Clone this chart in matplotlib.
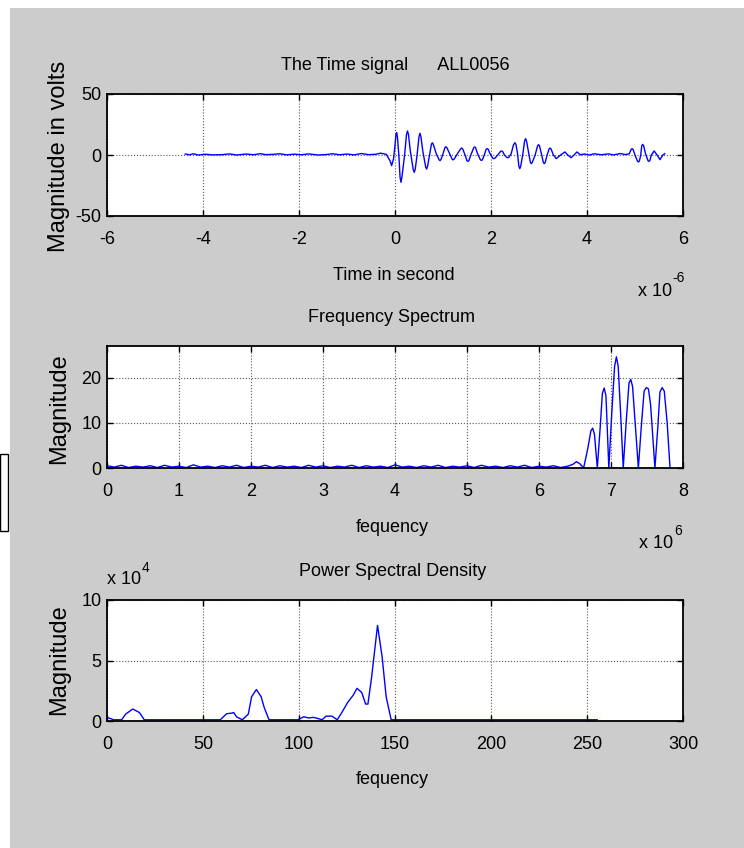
import matplotlib
matplotlib.use('Agg')
import matplotlib.pyplot as plt
from matplotlib.patches import Rectangle

W, H = 744, 848

# time signal, (time in micro seconds, volts)
quiet_start = [(-4.37, 0.8), (-4.28, 0.2), (-4.2, 1.0), (-4.1, 0.0), (-3.95, 0.6), (-3.8, 0.1),
               (-3.6, 0.3), (-3.45, 0.9), (-3.3, 0.0), (-3.1, 0.8), (-2.95, 0.2), (-2.8, 1.1),
               (-2.7, 0.3), (-2.55, 0.5), (-2.4, 1.0), (-2.25, 0.1), (-2.1, 0.7), (-1.95, 0.2),
               (-1.8, 0.9), (-1.6, 0.0), (-1.45, 0.3), (-1.3, 1.0), (-1.15, 0.2), (-1.0, 0.8),
               (-0.85, 0.1), (-0.7, 1.2), (-0.55, 0.3), (-0.4, 0.6), (-0.3, 1.5), (-0.18, 0.5)]
burst = [(-0.1, -5), (-0.07, -8.7), (-0.03, -3), (0.0, 8), (0.02, 17), (0.035, 18.3), (0.05, 15),
         (0.08, 0), (0.105, -18), (0.125, -22.4), (0.145, -18), (0.2, 0), (0.24, 17), (0.26, 19.7),
         (0.28, 17), (0.32, 3), (0.38, -12), (0.40, -14.2), (0.42, -12), (0.46, 0), (0.50, 15),
         (0.52, 17.8), (0.54, 15), (0.58, 3), (0.64, -10), (0.66, -11.5), (0.68, -9), (0.72, 0),
         (0.76, 9), (0.78, 10), (0.80, 8.5), (0.86, 1), (0.92, -4), (0.94, -4.6), (0.96, -3.5),
         (1.0, 1), (1.04, 6), (1.06, 6.8), (1.08, 6), (1.14, 1), (1.19, -3.5), (1.21, -4),
         (1.23, -3.5), (1.30, 1), (1.37, 5.2), (1.39, 5.7), (1.41, 5), (1.46, 0), (1.50, -4.8),
         (1.52, -5.2), (1.54, -4.5), (1.58, 0), (1.64, 6), (1.66, 6.6), (1.68, 6), (1.72, 1),
         (1.78, -4), (1.80, -4.4), (1.82, -4), (1.86, 0), (1.90, 4.8), (1.92, 5.2), (1.94, 4.8),
         (1.98, 1), (2.04, -2.7), (2.06, -3), (2.08, -2.7), (2.14, 0), (2.20, 3), (2.22, 3.3),
         (2.24, 3), (2.28, 0), (2.33, -2), (2.35, -2.2), (2.37, -2), (2.42, 1), (2.47, 8.5),
         (2.50, 10.1), (2.52, 8.5), (2.55, 2), (2.58, -9), (2.60, -11.2), (2.62, -9), (2.66, 0),
         (2.70, 11.5), (2.72, 13.4), (2.74, 11.5), (2.78, 3), (2.82, -6), (2.84, -7.1),
         (2.86, -6), (2.92, 0), (2.97, 7.5), (2.99, 8.5), (3.01, 7.5), (3.05, 1), (3.09, -6),
         (3.11, -7.1), (3.13, -6), (3.17, 0), (3.21, 5), (3.23, 5.7), (3.25, 5), (3.30, 0),
         (3.36, -3), (3.45, 0), (3.54, 2.5), (3.60, 0), (3.67, -2.2), (3.73, 0), (3.79, 2.5),
         (3.86, 0.2)]
quiet_mid = [(3.95, 0.8), (4.05, 0.0), (4.15, 1.0), (4.3, 0.2), (4.45, 0.9), (4.55, 0.1),
             (4.7, 1.2), (4.8, 0.3)]
tail = [(4.88, 1), (4.92, 4.5), (4.94, 5.2), (4.96, 4.5), (5.0, 0), (5.05, -5), (5.07, -5.7),
        (5.09, -5), (5.12, 0), (5.14, 7.5), (5.16, 8.7), (5.18, 7.5), (5.22, 1), (5.27, -4.6),
        (5.29, -5.2), (5.31, -4.6), (5.34, 0), (5.40, 3.3), (5.46, 0), (5.52, -3.8), (5.58, 0),
        (5.62, 1.1)]
signal = quiet_start + burst + quiet_mid + tail
time_us = [p[0] for p in signal]
volts = [p[1] for p in signal]

# frequency spectrum (MHz, magnitude)
noise_floor = [(0.0, 0.5), (0.1, 0.2), (0.2, 0.6), (0.3, 0.1), (0.4, 0.4), (0.5, 0.2), (0.6, 0.5),
               (0.7, 0.1), (0.8, 0.6), (0.9, 0.2), (1.0, 0.4), (1.1, 0.1), (1.2, 0.7), (1.3, 0.2),
               (1.4, 0.4), (1.5, 0.1), (1.6, 0.5), (1.7, 0.2), (1.8, 0.6), (1.9, 0.1), (2.0, 0.4),
               (2.1, 0.2), (2.2, 0.6), (2.3, 0.1), (2.4, 0.5), (2.5, 0.2), (2.6, 0.4), (2.7, 0.1),
               (2.8, 0.6), (2.9, 0.2), (3.0, 0.5), (3.1, 0.1), (3.2, 0.4), (3.3, 0.2), (3.4, 0.6),
               (3.5, 0.1), (3.6, 0.5), (3.7, 0.2), (3.8, 0.4), (3.9, 0.1), (4.0, 0.7), (4.1, 0.2),
               (4.2, 0.4), (4.3, 0.1), (4.4, 0.5), (4.5, 0.2), (4.6, 0.6), (4.7, 0.1), (4.8, 0.4),
               (4.9, 0.2), (5.0, 0.5), (5.1, 0.1), (5.2, 0.6), (5.3, 0.2), (5.4, 0.4), (5.5, 0.1),
               (5.6, 0.5), (5.7, 0.2), (5.8, 0.6), (5.9, 0.1), (6.0, 0.4), (6.1, 0.2), (6.2, 0.5),
               (6.3, 0.1), (6.4, 0.4)]
peaks = [(6.47, 0.8), (6.52, 1.4), (6.57, 0.9), (6.62, 0.0), (6.68, 4.5), (6.72, 8.2),
         (6.745, 8.8), (6.77, 7.5), (6.81, 0.0), (6.85, 9), (6.88, 16.5), (6.905, 17.7),
         (6.93, 16), (6.97, 0.0), (7.01, 12), (7.05, 22.5), (7.075, 24.6), (7.10, 22.5),
         (7.14, 10), (7.17, 0.0), (7.21, 10), (7.25, 18.8), (7.275, 19.6), (7.30, 18), (7.34, 9),
         (7.38, 0.0), (7.42, 9), (7.46, 17), (7.49, 17.8), (7.52, 17.5), (7.55, 14), (7.61, 0.0),
         (7.65, 9), (7.68, 16.8), (7.71, 17.8), (7.74, 17), (7.78, 10), (7.82, 0.0)]
spectrum = noise_floor + peaks
freq_mhz = [p[0] for p in spectrum]
spec_mag = [p[1] for p in spectrum]

# power spectral density (x 10^4)
psd_f = [0, 3.5, 7.6, 9.7, 13.4, 16.9, 19.4,
         59, 62.3, 65, 66, 67.5, 70.5, 73.6, 75.3, 77.8, 80.3, 81.9, 84.4,
         99.4, 102.5, 105, 107.5, 110, 112, 114.1, 117.2, 119.9, 122.3, 125.4, 128.1,
         130.2, 132.7, 134.7, 135.9, 137.8, 140.9, 143.3, 145.4, 148, 255.3]
psd_v = [0.3, 0.1, 0.1, 0.57, 0.99, 0.7, 0.1,
         0.1, 0.6, 0.65, 0.7, 0.34, 0.1, 0.57, 2.0, 2.6, 2.0, 1.1, 0.1,
         0.1, 0.35, 0.25, 0.3, 0.2, 0.1, 0.4, 0.4, 0.1, 0.7, 1.55, 2.1,
         2.7, 2.35, 1.4, 1.4, 3.6, 7.9, 5.3, 2.0, 0.1, 0.1]

plt.rcParams['font.family'] = ['Liberation Sans', 'DejaVu Sans']
plt.rcParams['axes.unicode_minus'] = False
FS = 13


def fx(x):
    return x / W


def fy(y):
    return 1 - y / H


fig = plt.figure(figsize=(W / 100, H / 100), dpi=100, facecolor='white')
fig.patches.append(Rectangle((fx(10), 0), 1, fy(8), transform=fig.transFigure,
                             facecolor='#cccccc', edgecolor='none', zorder=-2))
fig.patches.append(Rectangle((0, fy(531)), fx(8), 77 / H, transform=fig.transFigure,
                             facecolor='white', edgecolor='black', lw=1, zorder=-1))


def make_ax(top, bottom):
    ax = fig.add_axes([fx(107), fy(bottom), fx(683) - fx(107), (bottom - top) / H])
    ax.set_facecolor('white')
    ax.grid(True, linestyle=':', color='0.35', linewidth=0.8)
    ax.tick_params(direction='in', length=4, width=1, top=True, right=True,
                   labelsize=FS, pad=11, colors='black')
    ax.tick_params(axis='y', pad=4)
    for s in ax.spines.values():
        s.set_linewidth(1.3)
    return ax


ax1 = make_ax(94, 216)
ax1.plot(time_us, volts, color='#0000ff', lw=1.0)
ax1.set_xlim(-6, 6)
ax1.set_ylim(-50, 50)
ax1.set_xticks([-6, -4, -2, 0, 2, 4, 6])
ax1.set_yticks([-50, 0, 50])

ax2 = make_ax(346, 468)
ax2.plot(freq_mhz, spec_mag, color='#0000ff', lw=1.0)
ax2.set_xlim(0, 8)
ax2.set_ylim(0, 27)
ax2.set_xticks(range(0, 9))
ax2.set_yticks([0, 10, 20])

ax3 = make_ax(600, 721)
ax3.plot(psd_f, psd_v, color='#0000ff', lw=1.0)
ax3.set_xlim(0, 300)
ax3.set_ylim(0, 10)
ax3.set_xticks(range(0, 301, 50))
ax3.set_yticks([0, 5, 10])

# titles and labels
fig.text(fx(395), fy(65), 'The Time signal      ALL0056', ha='center', va='center', fontsize=FS)
fig.text(fx(394), fy(275), 'Time in second', ha='center', va='center', fontsize=FS)
fig.text(fx(392), fy(318), 'Frequency Spectrum', ha='center', va='center', fontsize=FS)
fig.text(fx(392), fy(527), 'fequency', ha='center', va='center', fontsize=FS)
fig.text(fx(393), fy(571), 'Power Spectral Density', ha='center', va='center', fontsize=FS)
fig.text(fx(392), fy(780), 'fequency', ha='center', va='center', fontsize=FS)

fig.text(fx(59), fy(156), 'Magnitude in volts', rotation=90, ha='center', va='center',
         fontsize=17)
fig.text(fx(59), fy(409), 'Magnitude', rotation=90, ha='center', va='center', fontsize=17)
fig.text(fx(59), fy(660), 'Magnitude', rotation=90, ha='center', va='center', fontsize=17)

# exponent labels
fig.text(fx(672), fy(291), 'x 10', ha='right', va='center', fontsize=FS)
fig.text(fx(672), fy(278), '-6', ha='left', va='center', fontsize=10)
fig.text(fx(673), fy(543), 'x 10', ha='right', va='center', fontsize=FS)
fig.text(fx(674), fy(531), '6', ha='left', va='center', fontsize=10)
fig.text(fx(141), fy(580), 'x 10', ha='right', va='center', fontsize=FS)
fig.text(fx(142), fy(568), '4', ha='left', va='center', fontsize=10)

fig.savefig('out.png', dpi=100, facecolor=fig.get_facecolor())
